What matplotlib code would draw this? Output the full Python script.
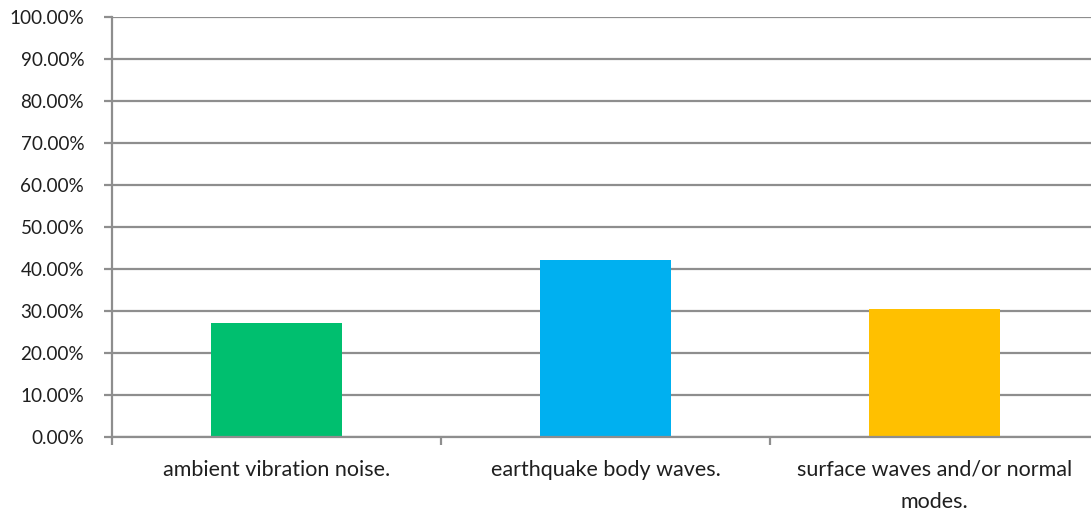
import matplotlib
matplotlib.use("Agg")
import matplotlib.pyplot as plt
from matplotlib.ticker import FixedLocator, FuncFormatter

categories = ["ambient vibration noise.", "earthquake body waves.",
              "surface waves and/or normal\nmodes."]
shares = [27.1, 42.1, 30.4]
bar_colors = ["#00BF6F", "#00B0F0", "#FFC000"]
y_ticks = [0, 10, 20, 30, 40, 50, 60, 70, 80, 90, 100]

plt.rcParams["font.family"] = ["Lato", "DejaVu Sans"]

fig = plt.figure(figsize=(10.91, 5.12), dpi=100)
ax = fig.add_axes([112 / 1091, 74.7 / 512, 987 / 1091, 420.8 / 512])

grid_c = "#8E8E8E"
x = list(range(len(categories)))
ax.bar(x, shares, width=0.4, color=bar_colors, zorder=3)

ax.set_xlim(-0.5, len(categories) - 0.5)
ax.set_ylim(0, 100)

ax.yaxis.set_major_locator(FixedLocator(y_ticks))
ax.yaxis.set_major_formatter(FuncFormatter(lambda v, p: f"{v:.2f}%"))
ax.grid(axis="y", color=grid_c, linewidth=1.6, zorder=0)

# category boundary ticks, labels centred under each bar
ax.xaxis.set_major_locator(FixedLocator([i - 0.5 for i in range(len(categories) + 1)]))
ax.xaxis.set_major_formatter(FuncFormatter(lambda v, p: ""))
ax.xaxis.set_minor_locator(FixedLocator(x))
ax.set_xticklabels(categories, minor=True)

ax.tick_params(axis="x", which="major", length=6, width=1.6, color=grid_c, direction="out")
ax.tick_params(axis="x", which="minor", length=0, pad=16, labelsize=15.5,
               labelcolor="#1F1F1F")
ax.tick_params(axis="y", length=6, width=1.6, color=grid_c, direction="out",
               pad=14, labelsize=13.6, labelcolor="#1F1F1F")
for lab in ax.get_xticklabels(minor=True):
    lab.set_linespacing(1.75)

for side in ["top", "right"]:
    ax.spines[side].set_visible(False)
for side in ["left", "bottom"]:
    ax.spines[side].set_color(grid_c)
    ax.spines[side].set_linewidth(1.6)
    ax.spines[side].set_zorder(4)

fig.savefig("out.png", dpi=100)
